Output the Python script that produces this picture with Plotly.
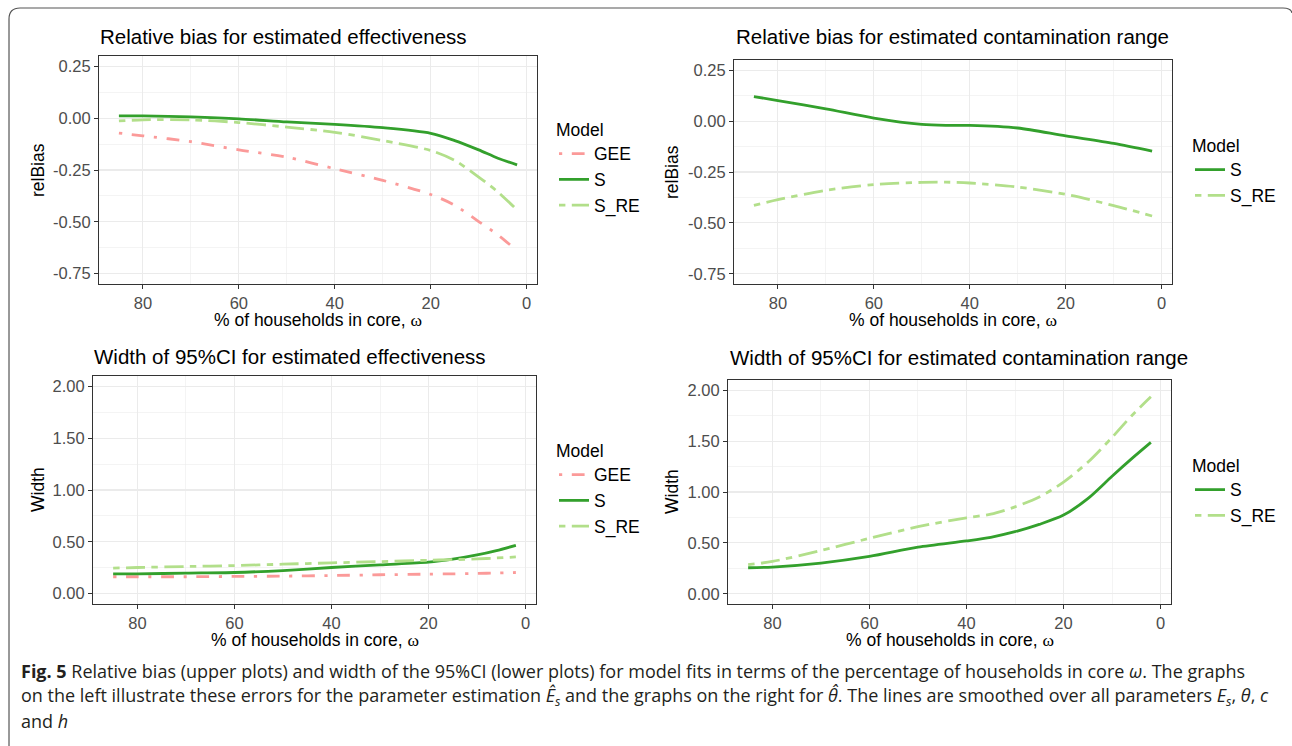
import plotly.graph_objects as go

W, H = 1292, 746

# ---------------- data ----------------
models = ["GEE", "S", "S_RE"]

# Relative bias, estimated effectiveness
omega_rb_eff = [85, 80, 70, 60, 50, 40, 30, 20, 15, 10, 6, 2]
rb_eff_gee = [-0.072, -0.085, -0.113, -0.153, -0.188, -0.244, -0.300, -0.368, -0.420, -0.499, -0.563, -0.640]
rb_eff_s = [0.011, 0.011, 0.006, -0.003, -0.018, -0.030, -0.046, -0.073, -0.108, -0.153, -0.193, -0.225]
rb_eff_sre = [-0.013, -0.008, -0.008, -0.021, -0.043, -0.068, -0.108, -0.156, -0.204, -0.284, -0.356, -0.443]

# Relative bias, estimated contamination range
omega_rb_cont = [85, 80, 70, 60, 50, 45, 40, 30, 20, 10, 2]
rb_cont_s = [0.120, 0.101, 0.060, 0.015, -0.016, -0.021, -0.021, -0.034, -0.073, -0.110, -0.148]
rb_cont_sre = [-0.414, -0.386, -0.340, -0.312, -0.301, -0.300, -0.304, -0.324, -0.360, -0.415, -0.466]

# Width of 95%CI, estimated effectiveness
omega_w_eff = [85, 80, 70, 60, 50, 40, 30, 20, 15, 10, 6, 2]
w_eff_gee = [0.163, 0.163, 0.163, 0.166, 0.169, 0.175, 0.182, 0.188, 0.191, 0.195, 0.199, 0.204]
w_eff_s = [0.191, 0.191, 0.198, 0.204, 0.223, 0.252, 0.278, 0.303, 0.332, 0.373, 0.415, 0.466]
w_eff_sre = [0.246, 0.252, 0.262, 0.271, 0.284, 0.297, 0.309, 0.322, 0.328, 0.335, 0.344, 0.354]

# Width of 95%CI, estimated contamination range
omega_w_cont = [85, 80, 70, 60, 50, 40, 35, 30, 25, 20, 15, 10, 6, 2]
w_cont_s = [0.256, 0.263, 0.302, 0.367, 0.458, 0.519, 0.555, 0.610, 0.682, 0.773, 0.935, 1.155, 1.325, 1.487]
w_cont_sre = [0.286, 0.318, 0.425, 0.545, 0.659, 0.747, 0.782, 0.854, 0.951, 1.097, 1.292, 1.536, 1.747, 1.935]

x_ticks = [80, 60, 40, 20, 0]
x_ticktext = ["80", "60", "40", "20", "0"]
rb_ticks = [0.25, 0.0, -0.25, -0.5, -0.75]
rb_ticktext = ["0.25", "0.00", "-0.25", "-0.50", "-0.75"]
w_ticks = [0.0, 0.5, 1.0, 1.5, 2.0]
w_ticktext = ["0.00", "0.50", "1.00", "1.50", "2.00"]

titles = ["Relative bias for estimated effectiveness",
          "Relative bias for estimated contamination range",
          "Width of 95%CI for estimated effectiveness",
          "Width of 95%CI for estimated contamination range"]

# ---------------- styling ----------------
colors = {"GEE": "#FB9A99", "S": "#33A02C", "S_RE": "#B2DF8A"}
dashes = {"GEE": "3.2px,9.6px,12.8px,9.6px", "S": "solid", "S_RE": "6.4px,6.4px,19.2px,6.4px"}
LW = 2.8
FONT = "Liberation Sans, Arial, sans-serif"


def px(x):
    return x / W


def py(y):
    return 1 - y / H


fig = go.Figure()

panels = [
    # (axis suffix, legend id, x px domain, y px domain)
    ("", "legend", (99, 537), (56, 284)),
    ("2", "legend2", (734, 1172), (60, 284)),
    ("3", "legend3", (93, 536), (376, 604)),
    ("4", "legend4", (728, 1171), (380, 604)),
]

series = [
    [(omega_rb_eff, rb_eff_gee, "GEE"), (omega_rb_eff, rb_eff_s, "S"), (omega_rb_eff, rb_eff_sre, "S_RE")],
    [(omega_rb_cont, rb_cont_s, "S"), (omega_rb_cont, rb_cont_sre, "S_RE")],
    [(omega_w_eff, w_eff_gee, "GEE"), (omega_w_eff, w_eff_s, "S"), (omega_w_eff, w_eff_sre, "S_RE")],
    [(omega_w_cont, w_cont_s, "S"), (omega_w_cont, w_cont_sre, "S_RE")],
]

for (suf, leg, _, _), ser in zip(panels, series):
    for xs, ys, name in ser:
        fig.add_trace(go.Scatter(
            x=xs, y=ys, mode="lines", name=name,
            line=dict(color=colors[name], width=LW, dash=dashes[name], shape="spline", smoothing=0.8),
            xaxis="x" + suf, yaxis="y" + suf, legend=leg, hoverinfo="skip",
        ))

layout = dict(
    width=W, height=H, margin=dict(l=0, r=0, t=0, b=0),
    paper_bgcolor="white", plot_bgcolor="white",
    font=dict(family=FONT, color="black"),
    showlegend=True,
)

for i, (suf, leg, xd, yd) in enumerate(panels):
    is_rb = i < 2
    xa = dict(
        domain=[px(xd[0]), px(xd[1])], anchor="y" + suf,
        range=[89.15, -2.15], tickmode="array", tickvals=x_ticks, ticktext=x_ticktext,
        showgrid=True, gridcolor="#EBEBEB", gridwidth=1.1,
        minor=dict(tickvals=[70, 50, 30, 10], showgrid=True, gridcolor="#EBEBEB", gridwidth=0.55, ticks=""),
        showline=True, mirror=True, linecolor="#333333", linewidth=1,
        ticks="outside", ticklen=4, tickcolor="#333333", tickwidth=1,
        tickfont=dict(size=16.5, color="#4D4D4D", family=FONT),
        zeroline=False, fixedrange=True,
    )
    if is_rb:
        yrange, yt, ytt, ymin = [-0.8, 0.3], rb_ticks, rb_ticktext, [0.125, -0.125, -0.375, -0.625]
    else:
        yrange, yt, ytt, ymin = [-0.1, 2.1], w_ticks, w_ticktext, [0.25, 0.75, 1.25, 1.75]
    ya = dict(
        domain=[py(yd[1]), py(yd[0])], anchor="x" + suf,
        range=yrange, tickmode="array", tickvals=yt, ticktext=ytt,
        showgrid=True, gridcolor="#EBEBEB", gridwidth=1.1,
        minor=dict(tickvals=ymin, showgrid=True, gridcolor="#EBEBEB", gridwidth=0.55, ticks=""),
        showline=True, mirror=True, linecolor="#333333", linewidth=1,
        ticks="outside", ticklen=4, tickcolor="#333333", tickwidth=1,
        tickfont=dict(size=16.5, color="#4D4D4D", family=FONT),
        zeroline=False, fixedrange=True,
    )
    layout["xaxis" + suf] = xa
    layout["yaxis" + suf] = ya

legend_pos = {
    "legend": (554, 113),
    "legend2": (1190, 129),
    "legend3": (554, 434),
    "legend4": (1190, 449),
}
for leg, (lx, ly) in legend_pos.items():
    layout[leg] = dict(
        x=px(lx), y=py(ly), xanchor="left", yanchor="top",
        title=dict(text="Model", font=dict(size=17.5, family=FONT, color="black")),
        font=dict(size=17.5, family=FONT, color="black"),
        bgcolor="rgba(0,0,0,0)", borderwidth=0, tracegroupgap=0, itemwidth=30,
    )

annotations = []
title_pos = [(98, 36), (734, 36), (92, 356), (728, 357)]
for t, (tx, ty) in zip(titles, title_pos):
    annotations.append(dict(text=t, x=px(tx), y=py(ty), xref="paper", yref="paper",
                            xanchor="left", yanchor="middle", showarrow=False,
                            font=dict(size=20.5, family=FONT, color="black")))

xtitle = "% of households in core, <span style='font-family:Liberation Serif'>ω</span>"
for (suf, leg, xd, yd), yl in zip(panels, ["relBias", "relBias", "Width", "Width"]):
    annotations.append(dict(text=xtitle, x=px((xd[0] + xd[1]) / 2), y=py(yd[1] + 36),
                            xref="paper", yref="paper", xanchor="center", yanchor="middle",
                            showarrow=False, font=dict(size=17.5, family=FONT, color="black")))
    ytx = 38 if xd[0] < 600 else 672
    annotations.append(dict(text=yl, x=px(ytx), y=py((yd[0] + yd[1]) / 2),
                            xref="paper", yref="paper", xanchor="center", yanchor="middle",
                            textangle=-90, showarrow=False,
                            font=dict(size=17.5, family=FONT, color="black")))

CAP_FONT = "Open Sans, Lato, sans-serif"
caption_lines = [
    "<b>Fig. 5</b> Relative bias (upper plots) and width of the 95%CI (lower plots) for model fits in terms of the percentage of households in core <i>ω</i>. The graphs",
    "on the left illustrate these errors for the parameter estimation <i>Ê</i><sub><i>s</i></sub> and the graphs on the right for <i>θ\u0302</i>. The lines are smoothed over all parameters <i>E</i><sub><i>s</i></sub>, <i>θ</i>, <i>c</i>",
    "and <i>h</i>",
]
for line, cy in zip(caption_lines, [671, 696, 721]):
    annotations.append(dict(text=line, x=px(19), y=py(cy), xref="paper", yref="paper",
                            xanchor="left", yanchor="middle", showarrow=False,
                            font=dict(size=18, family=CAP_FONT, color="#231F20")))

layout["annotations"] = annotations


def P(x, y):
    return f"{px(x):.5f},{py(y):.5f}"


frame = (f"M {P(9, 760)} L {P(9, 19)} Q {P(9, 8)} {P(20, 8)} "
         f"L {P(1283, 8)} Q {P(1291, 8)} {P(1292, 13)}")
layout["shapes"] = [dict(type="path", path=frame, xref="paper", yref="paper",
                         line=dict(color="#555555", width=1.2))]

fig.update_layout(**layout)
fig.write_html("out.html",
               config={"displayModeBar": False, "staticPlot": True},
               post_script="document.body.style.margin='0';document.body.style.overflow='hidden';")
